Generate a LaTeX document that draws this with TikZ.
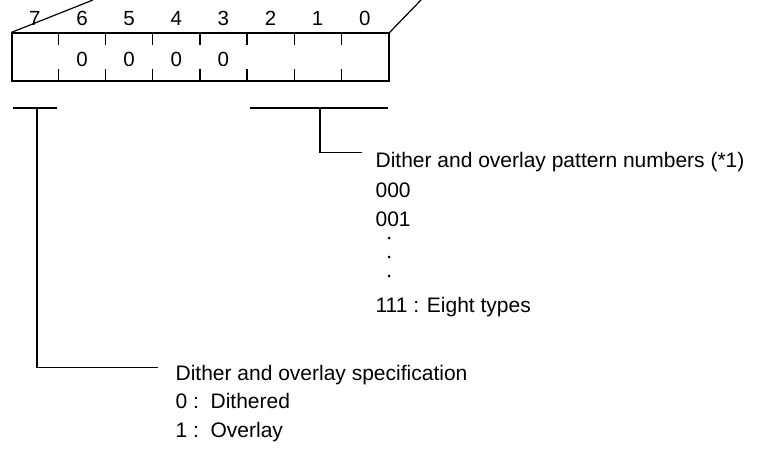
\documentclass[tikz,border=0pt]{standalone}
\usepackage{fontspec}
\setmainfont{Liberation Sans}
\usepackage{tikz}
\usetikzlibrary{positioning,calc}

\begin{document}
\begin{tikzpicture}[
  x=1pt,y=-1pt,
  line width=1.2pt,
  bitlabel/.style={inner sep=0pt,font=\fontsize{20.5}{24}\selectfont},
  note/.style={anchor=base west,inner sep=0pt,font=\fontsize{21}{24}\selectfont},
  regbox/.style={rectangle,draw,minimum width=377pt,minimum height=48pt,inner sep=0pt}
]
  \useasboundingbox (0,0) rectangle (760,452);

  % register
  \node[regbox] (reg) at (200.5,57) {};
  \draw (reg.north west) -- (93,0);
  \draw (reg.north east) -- (421,0);
  \foreach \i in {1,...,7}{
    \draw ($(reg.north west)+(47.125*\i,0)$) -- ++(0,13);
    \draw ($(reg.south west)+(47.125*\i,0)$) -- ++(0,-13);
  }
  \foreach \i/\b in {0/7,1/6,2/5,3/4,4/3,5/2,6/1,7/0}
    \node[bitlabel] (bit\b) at ($(reg.north west)+(47.125*\i+23.5,-14)$) {\b};
  \foreach \i/\b in {1/6,2/5,3/4,4/3}
    \node[bitlabel] (val\b) at ($(reg.west)+(47.125*\i+23.5,2.5)$) {0};

  % brackets
  \coordinate (lbA) at (13,108);
  \coordinate (lbB) at (57,108);
  \coordinate (lbM) at (37,108);
  \coordinate (rbA) at (250,108);
  \coordinate (rbB) at (388,108);
  \coordinate (rbM) at (320,108);
  \draw (lbA) -- (lbB);
  \draw (rbA) -- (rbB);

  % pattern numbers
  \node[note] (pat) at (375,167) {Dither and overlay pattern numbers (*1)};
  \node[note] (p0) at (375,197) {000};
  \node[note] (p1) at (375,226) {001};
  \node[note] (p7) at (375,312) {111 : Eight types};
  \fill (389,238) circle (1.5) (389,257) circle (1.5) (389,276) circle (1.5);
  \draw (rbM) |- ($(pat.west)+(-13,-9)$);

  % specification
  \node[note] (spec) at (175,380) {Dither and overlay specification};
  \node[note] (s0) at (175,408) {0 :\ \ Dithered};
  \node[note] (s1) at (175,437) {1 :\ \ Overlay};
  \draw (lbM) |- ($(spec.west)+(-17,-7)$);
\end{tikzpicture}
\end{document}
